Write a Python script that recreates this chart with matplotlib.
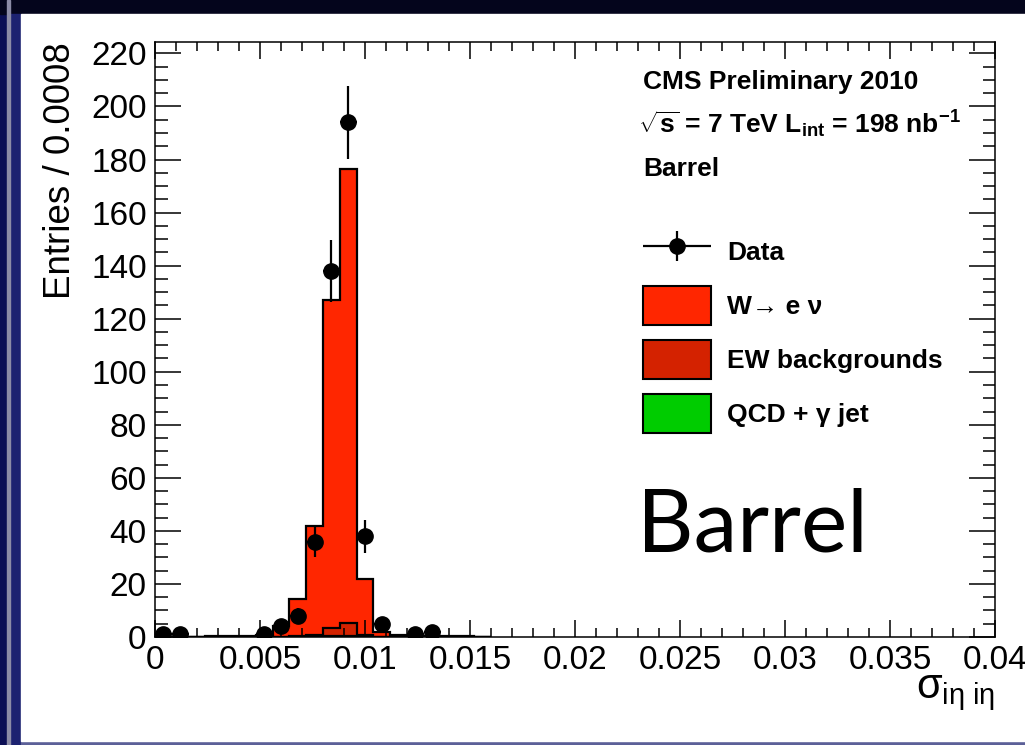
import numpy as np
import matplotlib
matplotlib.use("Agg")
import matplotlib.pyplot as plt
import matplotlib.patches as mpatches
from matplotlib.container import ErrorbarContainer
from matplotlib.legend_handler import HandlerErrorbar
from matplotlib.ticker import MultipleLocator

plt.rcParams['font.family'] = ['Liberation Sans', 'DejaVu Sans']
plt.rcParams['mathtext.fontset'] = 'custom'
plt.rcParams['mathtext.rm'] = 'Liberation Sans'
plt.rcParams['mathtext.it'] = 'Liberation Sans'
plt.rcParams['mathtext.bf'] = 'Liberation Sans:bold'

# sigma_ieta_ieta, bins of 0.0008 (first 20 bins, the rest are empty)
bin_width = 0.0008
bin_edges = np.arange(21) * bin_width

w_enu = [0, 0, 0, 0.3, 0.4, 0.5, 0.8, 4.2, 14.0, 41.2,
         123.7, 171.1, 21.2, 2.0, 0.8, 0.5, 0.4, 0.3, 0.2, 0]
ew_bkg = [0, 0, 0, 0, 0, 0, 0, 0, 0.5, 0.8,
          3.0, 5.0, 0.8, 0, 0, 0, 0, 0, 0, 0]
qcd_gjet = [0, 0, 0, 0, 0, 0, 0, 0, 0, 0,
            0.3, 0.4, 0, 0, 0, 0, 0, 0, 0, 0]

data_x = [0.0004, 0.0012, 0.0052, 0.0060, 0.0068, 0.0076,
          0.0084, 0.0092, 0.0100, 0.0108, 0.0124, 0.0132]
data_y = [1, 1, 1, 4, 8, 36, 138, 194, 38, 5, 1, 2]
data_err = [1.0, 1.0, 1.0, 2.0, 2.8, 6.0, 11.7, 13.9, 6.2, 2.2, 1.0, 1.4]

xticks = [0, 0.005, 0.01, 0.015, 0.02, 0.025, 0.03, 0.035, 0.04]
xtick_labels = ['0', '0.005', '0.01', '0.015', '0.02', '0.025', '0.03', '0.035', '0.04']
yticks = [0, 20, 40, 60, 80, 100, 120, 140, 160, 180, 200, 220]

fig = plt.figure(figsize=(10.25, 7.45), dpi=100)
fig.patch.set_facecolor('#0b0f55')

# slide frame around the plot
W, H = 1025.0, 745.0
def frame_rect(x0, y0, x1, y1, color):
    fig.patches.append(mpatches.Rectangle((x0 / W, 1 - y1 / H), (x1 - x0) / W, (y1 - y0) / H,
                                          transform=fig.transFigure, color=color, zorder=-5))
frame_rect(0, 0, 1025, 14, '#04051c')
frame_rect(10, 14, 21, 745, '#1c2270')
frame_rect(7, 0, 9.5, 745, '#8c8ca6')
frame_rect(21, 741, 1025, 745, '#5c6098')
frame_rect(21, 14, 1025, 741, 'white')

ax = fig.add_axes([155 / W, 1 - 637 / H, 840 / W, 595 / H])
ax.set_facecolor('none')

qcd_cum = np.array(qcd_gjet)
ew_cum = qcd_cum + np.array(ew_bkg)
tot_cum = ew_cum + np.array(w_enu)

ax.stairs(tot_cum, bin_edges, baseline=0, fill=True, facecolor='#ff2600',
          edgecolor='black', linewidth=1.6)
ax.stairs(ew_cum, bin_edges, baseline=0, fill=True, facecolor='#d42200',
          edgecolor='black', linewidth=1.6)
ax.stairs(qcd_cum, bin_edges, baseline=0, fill=True, facecolor='#00cc00',
          edgecolor='black', linewidth=1.6)

data = ax.errorbar(data_x, data_y, yerr=data_err, xerr=bin_width / 2, fmt='o',
                   color='black', markersize=11, elinewidth=1.6, capsize=0, zorder=5)

ax.set_xlim(0, 0.04)
ax.set_ylim(0, 224.3)
ax.set_xticks(xticks, xtick_labels)
ax.set_yticks(yticks)
ax.xaxis.set_minor_locator(MultipleLocator(0.001))
ax.yaxis.set_minor_locator(MultipleLocator(5))
ax.tick_params(which='both', direction='in', top=True, right=True, labelsize=24, width=1.1)
ax.tick_params(axis='x', which='major', length=12, pad=6)
ax.tick_params(axis='x', which='minor', length=6.5)
ax.tick_params(axis='y', which='major', length=19, pad=6)
ax.tick_params(axis='y', which='minor', length=9)
for s in ax.spines.values():
    s.set_linewidth(1.1)

ax.text((60 - 155) / 840, 1.0, 'Entries / 0.0008', rotation=90, ha='center', va='top',
        fontsize=26.5, transform=ax.transAxes)
ax.text(1.0, (637 - 698) / 595, r'$\sigma_{\mathrm{i}\eta\ \mathrm{i}\eta}$', ha='right',
        va='baseline', fontsize=30, transform=ax.transAxes)

ax.text(0.581, 0.933, 'CMS Preliminary 2010', fontsize=19, fontweight='bold',
        va='center', transform=ax.transAxes)
ax.text(0.575, 0.861, r'$\sqrt{\mathbf{s}}$ = 7 TeV L$_{\mathbf{int}}$ = 198 nb$^{\mathbf{-1}}$',
        fontsize=19, fontweight='bold', va='center', transform=ax.transAxes)
ax.text(0.581, 0.787, 'Barrel', fontsize=19, fontweight='bold', va='center',
        transform=ax.transAxes)

handles = [data,
           mpatches.Patch(facecolor='#ff2600', edgecolor='black', linewidth=1.5),
           mpatches.Patch(facecolor='#d42200', edgecolor='black', linewidth=1.5),
           mpatches.Patch(facecolor='#00cc00', edgecolor='black', linewidth=1.5)]
labels = ['Data', 'W→ e ν', 'EW backgrounds', 'QCD + γ jet']
ax.legend(handles, labels, loc='upper left', bbox_to_anchor=(0.581, 0.681),
          frameon=False, borderpad=0, borderaxespad=0, prop={'size': 19, 'weight': 'bold'},
          handlelength=2.58, handleheight=1.9, labelspacing=0.57, handletextpad=0.6,
          handler_map={ErrorbarContainer: HandlerErrorbar(xerr_size=1.29, yerr_size=0.57)})

ax.text(0.574, (637 - 552) / 595, 'Barrel', fontsize=63, family='Lato', va='baseline',
        transform=ax.transAxes)

fig.savefig('out.png', dpi=100, facecolor=fig.get_facecolor())
